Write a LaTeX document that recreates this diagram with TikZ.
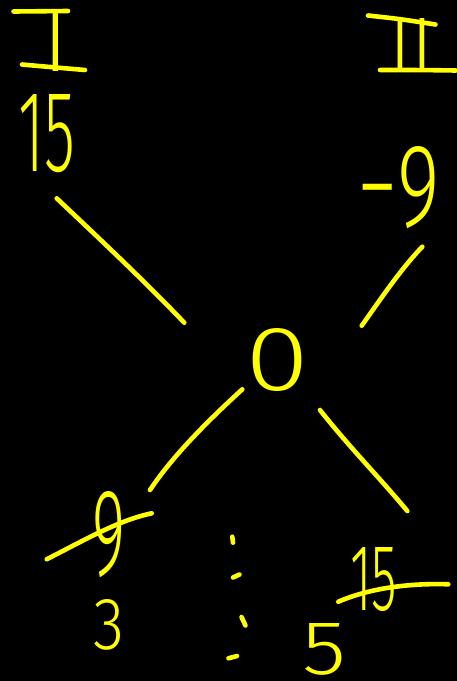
\documentclass[tikz,border=0pt]{standalone}
\usepackage{fontspec}
\IfFontExistsTF{Fira Sans Light}{\setmainfont{Fira Sans Light}}{\setmainfont{Liberation Sans}}
\usepackage{graphicx}
\definecolor{yel}{RGB}{255,255,0}
\tikzset{
  pen/.style={draw=yel, line width=4.6pt, line cap=round, line join=round},
  num/.style={text=yel, inner sep=0pt, outer sep=0pt, font=\fontsize{60}{60}\selectfont},
}
\begin{document}
\begin{tikzpicture}[x=1pt,y=-1pt]
\fill[black] (0,0) rectangle (457,681);
\useasboundingbox (0,0) rectangle (457,681);

% Roman numerals (stems as text, bars drawn)
\node[num] (nI) at (56,41) {\resizebox{!}{60pt}{I}};
\draw[pen] (13.5,11.5) -- (68,11);
\draw[pen] (22,64.5) .. controls (50,67) .. (85,70);
\node[num] (nII) at (411.5,44.5) {\resizebox{!}{53pt}{II}};
\draw[pen] (368,15.5) .. controls (400,19) .. (435.5,24.5);
\draw[pen] (380,70) .. controls (420,70) .. (456,70.5);

% values
\node[num] (n15t) at (46.5,133.5) {\resizebox{57pt}{77pt}{15}};
\node[num] (nm9)  at (399,188)    {\resizebox{82pt}{80pt}{−9}};
\node[num] (n0)   at (277.5,360)  {\resizebox{64pt}{62pt}{0}};
\node[num] (n9)   at (108.7,535)  {\resizebox{33pt}{84pt}{9}};
\node[num] (n3)   at (108.7,625)  {\resizebox{31pt}{50pt}{3}};
\node[num] (n15b) at (373.5,579.5){\resizebox{47pt}{63pt}{15}};
\node[num] (n5)   at (324.7,649.5){\resizebox{44pt}{51pt}{5}};

% connector end points
\coordinate (a1) at (56.7,198.3);  \coordinate (b1) at (184.3,322.7);
\coordinate (a2) at (422.3,246.7); \coordinate (b2) at (361.7,325.7);
\coordinate (a3) at (242.3,389.3); \coordinate (b3) at (150,490);
\coordinate (a4) at (320,410);     \coordinate (b4) at (407.3,511);

\draw[pen] (a1) .. controls (120,258) and (150,287) .. (b1);
\draw[pen] (a2) .. controls (400,270) and (380,300) .. (b2);
\draw[pen] (a3) .. controls (200,428) and (170,460) .. (b3);
\draw[pen] (a4) .. controls (350,448) and (380,478) .. (b4);

% strike-through lines
\coordinate (s1a) at (46.7,559.3);  \coordinate (s1b) at (151.7,513.3);
\coordinate (s2a) at (338.3,601.7); \coordinate (s2b) at (448.3,584.3);
\draw[pen] (s1a) .. controls (90,537) and (120,520) .. (s1b);
\draw[pen] (s2a) .. controls (370,588) and (410,583) .. (s2b);

% vertical dots
\draw[pen] (232.3,536.7) -- (233,542.7);
\draw[pen] (233,577.5) -- (239.5,574.5);
\draw[pen] (241.5,617) -- (245.5,625.5);
\draw[pen] (228.5,658.3) -- (237,656);
\end{tikzpicture}
\end{document}
